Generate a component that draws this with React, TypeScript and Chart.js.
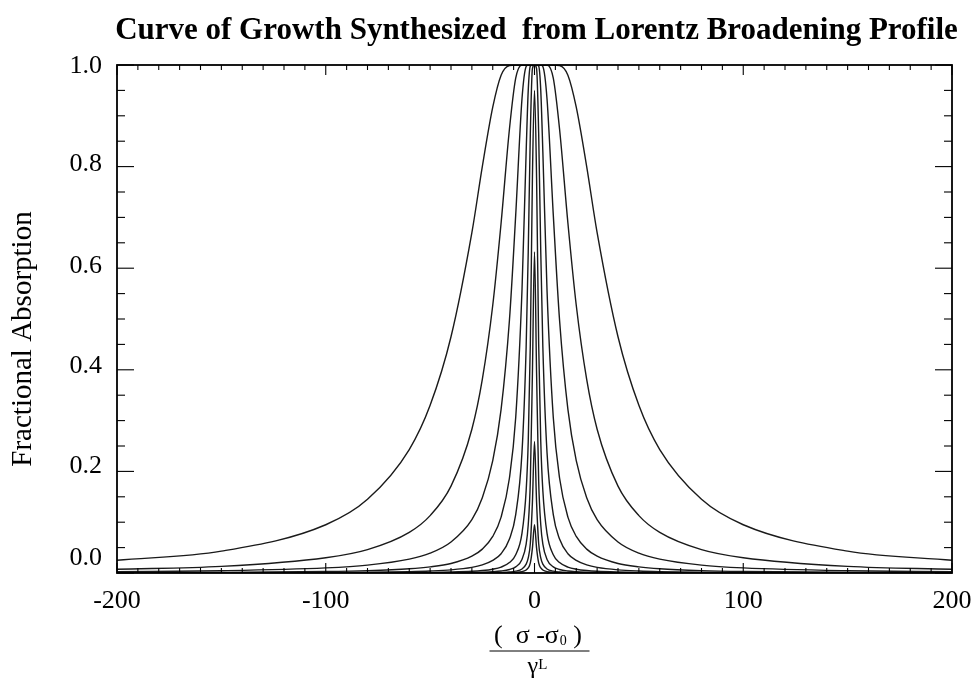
import React, { useEffect, useRef } from 'react';
import { Chart, registerables } from 'chart.js';

Chart.register(...registerables);

const TITLE = 'Curve of Growth Synthesized  from Lorentz Broadening Profile';
const Y_TITLE = 'Fractional Absorption';
const X_TICK_LABELS = ['-200', '-100', '0', '100', '200'];
const X_TICK_VALUES = [-200, -100, 0, 100, 200];
const Y_TICK_LABELS = ['0.0', '0.2', '0.4', '0.6', '0.8', '1.0'];
const Y_TICK_VALUES = [0, 0.2, 0.4, 0.6, 0.8, 1.0];

// offset from line centre, (sigma - sigma0)/gammaL
const xValues = [-200, -150, -100, -80, -60, -50, -40, -30, -25, -20, -16, -12, -9, -6, -4, -3, -2, -1, 0, 1, 2, 3, 4, 6, 9, 12, 16, 20, 25, 30, 40, 50, 60, 80, 100, 150, 200];

// fractional absorption of each profile, widest first
const curveA = [0.025, 0.043, 0.095, 0.145, 0.243, 0.33, 0.465, 0.67, 0.80, 0.917, 0.98, 0.999, 1, 1, 1, 1, 1, 1, 1, 1, 1, 1, 1, 1, 1, 0.999, 0.98, 0.917, 0.80, 0.67, 0.465, 0.33, 0.243, 0.145, 0.095, 0.043, 0.025];
const curveB = [0.0075, 0.013, 0.030, 0.046, 0.080, 0.113, 0.171, 0.283, 0.381, 0.527, 0.689, 0.874, 0.974, 1, 1, 1, 1, 1, 1, 1, 1, 1, 1, 1, 0.974, 0.874, 0.689, 0.527, 0.381, 0.283, 0.171, 0.113, 0.080, 0.046, 0.030, 0.013, 0.0075];
const curveC = [0.0025, 0.0044, 0.010, 0.0155, 0.0274, 0.039, 0.061, 0.105, 0.148, 0.221, 0.322, 0.498, 0.705, 0.933, 0.997, 1, 1, 1, 1, 1, 1, 1, 0.997, 0.933, 0.705, 0.498, 0.322, 0.221, 0.148, 0.105, 0.061, 0.039, 0.0274, 0.0155, 0.010, 0.0044, 0.0025];
const curveD = [0.0008, 0.0013, 0.003, 0.0047, 0.0083, 0.012, 0.0186, 0.033, 0.047, 0.072, 0.110, 0.187, 0.306, 0.556, 0.829, 0.950, 0.998, 1, 1, 1, 0.998, 0.950, 0.829, 0.556, 0.306, 0.187, 0.110, 0.072, 0.047, 0.033, 0.0186, 0.012, 0.0083, 0.0047, 0.003, 0.0013, 0.0008];
const curveE = [0.0003, 0.0004, 0.001, 0.0016, 0.0028, 0.004, 0.0062, 0.011, 0.016, 0.025, 0.038, 0.067, 0.115, 0.237, 0.445, 0.632, 0.865, 0.993, 1, 0.993, 0.865, 0.632, 0.445, 0.237, 0.115, 0.067, 0.038, 0.025, 0.016, 0.011, 0.0062, 0.004, 0.0028, 0.0016, 0.001, 0.0004, 0.0003];
const curveF = [0, 0.0001, 0.0003, 0.0005, 0.0008, 0.0012, 0.0019, 0.0033, 0.0048, 0.0075, 0.0116, 0.0205, 0.036, 0.078, 0.162, 0.259, 0.451, 0.777, 0.950, 0.777, 0.451, 0.259, 0.162, 0.078, 0.036, 0.0205, 0.0116, 0.0075, 0.0048, 0.0033, 0.0019, 0.0012, 0.0008, 0.0005, 0.0003, 0.0001, 0];
const curveG = [0, 0, 0.0001, 0.0002, 0.0003, 0.0004, 0.0006, 0.0011, 0.0016, 0.0025, 0.0039, 0.0069, 0.0121, 0.0267, 0.057, 0.095, 0.181, 0.393, 0.632, 0.393, 0.181, 0.095, 0.057, 0.0267, 0.0121, 0.0069, 0.0039, 0.0025, 0.0016, 0.0011, 0.0006, 0.0004, 0.0003, 0.0002, 0.0001, 0, 0];
const curveH = [0, 0, 0, 0, 0.0001, 0.0001, 0.0002, 0.0003, 0.0005, 0.0007, 0.0012, 0.0021, 0.0037, 0.008, 0.0175, 0.0296, 0.058, 0.139, 0.259, 0.139, 0.058, 0.0296, 0.0175, 0.008, 0.0037, 0.0021, 0.0012, 0.0007, 0.0005, 0.0003, 0.0002, 0.0001, 0.0001, 0, 0, 0, 0];
const curveI = [0, 0, 0, 0, 0, 0, 0, 0.0001, 0.0002, 0.0002, 0.0004, 0.0007, 0.0012, 0.0027, 0.006, 0.010, 0.0198, 0.049, 0.095, 0.049, 0.0198, 0.010, 0.006, 0.0027, 0.0012, 0.0007, 0.0004, 0.0002, 0.0002, 0.0001, 0, 0, 0, 0, 0, 0, 0];

const curves = [curveA, curveB, curveC, curveD, curveE, curveF, curveG, curveH, curveI];

const X_MIN = -200, X_MAX = 200, X_MINOR = 10, X_MAJOR = 100;
const Y_MIN = 0, Y_MAX = 1;

const SERIF = '"Liberation Serif", "DejaVu Serif", serif';
// vertical nudges of the y tick labels (IDL style placement)
const Y_LABEL_NUDGE = [15, 5, 4, 2, 2, -1];

const idlPlugin = {
  id: 'idlAxes',
  afterDatasetsDraw(chart: any) {
    const { ctx, chartArea: a, scales } = chart;
    const xs = scales.x, ys = scales.y;
    ctx.save();
    ctx.strokeStyle = '#000';
    ctx.fillStyle = '#000';
    ctx.lineWidth = 1.8;
    ctx.strokeRect(a.left, a.top, a.right - a.left, a.bottom - a.top);
    ctx.lineWidth = 1.1;
    const seg = (x1: number, y1: number, x2: number, y2: number) => {
      ctx.beginPath(); ctx.moveTo(x1, y1); ctx.lineTo(x2, y2); ctx.stroke();
    };
    const nx = Math.round((X_MAX - X_MIN) / X_MINOR);
    for (let i = 0; i <= nx; i++) {
      const v = X_MIN + i * X_MINOR;
      const major = i % (X_MAJOR / X_MINOR) === 0;
      const len = major ? 10 : 5;
      const px = xs.getPixelForValue(v);
      seg(px, a.bottom, px, a.bottom - len);
      seg(px, a.top, px, a.top + len);
    }
    for (let i = 0; i <= 20; i++) {
      const v = Y_MIN + i * 0.05;
      const len = i % 4 === 0 ? 17 : 8;
      const py = ys.getPixelForValue(v);
      seg(a.left, py, a.left + len, py);
      seg(a.right, py, a.right - len, py);
    }
    // tick labels
    ctx.font = `26px ${SERIF}`;
    ctx.textAlign = 'center';
    ctx.textBaseline = 'middle';
    X_TICK_VALUES.forEach((v, i) => {
      ctx.fillText(X_TICK_LABELS[i], xs.getPixelForValue(v), a.bottom + 28);
    });
    ctx.textAlign = 'right';
    Y_TICK_VALUES.forEach((v, i) => {
      ctx.fillText(Y_TICK_LABELS[i], a.left - 15, ys.getPixelForValue(v) - Y_LABEL_NUDGE[i]);
    });
    // title
    ctx.font = `bold 31px ${SERIF}`;
    ctx.textAlign = 'center';
    ctx.fillText(TITLE, (a.left + a.right) / 2 + 2, 31);
    // y title
    ctx.save();
    ctx.font = `29px ${SERIF}`;
    ctx.translate(23, (a.top + a.bottom) / 2 + 20);
    ctx.rotate(-Math.PI / 2);
    ctx.textAlign = 'center';
    ctx.fillText(Y_TITLE, 0, 0);
    ctx.restore();
    // x title as fraction
    const cx = xs.getPixelForValue(0) + 3;
    ctx.textAlign = 'left';
    const p1 = '(  σ -σ';
    const p2 = '0';
    const p3 = ' )';
    ctx.font = `26px ${SERIF}`;
    const w1 = ctx.measureText(p1).width;
    const w3 = ctx.measureText(p3).width;
    ctx.font = `14px ${SERIF}`;
    const w2 = ctx.measureText(p2).width;
    const total = w1 + w2 + w3;
    const x0 = cx - total / 2;
    const ny = a.bottom + 63;
    ctx.font = `26px ${SERIF}`;
    ctx.fillText(p1, x0, ny);
    ctx.font = `14px ${SERIF}`;
    ctx.fillText(p2, x0 + w1 + 1, ny + 5);
    ctx.font = `26px ${SERIF}`;
    ctx.fillText(p3, x0 + w1 + w2 + 1, ny);
    ctx.lineWidth = 1;
    seg(cx - 48, a.bottom + 78, cx + 52, a.bottom + 78);
    ctx.font = `24px ${SERIF}`;
    const g = 'γ';
    const wg = ctx.measureText(g).width;
    ctx.font = `15px ${SERIF}`;
    const wl = ctx.measureText('L').width;
    const gx = cx - (wg + wl) / 2;
    ctx.font = `24px ${SERIF}`;
    ctx.fillText(g, gx, a.bottom + 94);
    ctx.font = `15px ${SERIF}`;
    ctx.fillText('L', gx + wg, a.bottom + 92);
    ctx.restore();
  },
};

export default function App() {
  const ref = useRef<HTMLCanvasElement | null>(null);
  useEffect(() => {
    if (!ref.current) return;
    const chart = new Chart(ref.current, {
      type: 'line',
      data: {
        datasets: curves.map((c, k) => ({
          label: 'profile ' + (k + 1),
          data: xValues.map((x, i) => ({ x, y: c[i] })),
          borderColor: '#1a1a1a',
          borderWidth: 1.4,
          pointRadius: 0,
          fill: false,
          cubicInterpolationMode: 'monotone' as const,
        })),
      },
      options: {
        animation: false,
        responsive: true,
        maintainAspectRatio: false,
        layout: { padding: { left: 117, right: 24, top: 65, bottom: 109 } },
        plugins: { legend: { display: false }, tooltip: { enabled: false }, title: { display: false } },
        scales: {
          x: { type: 'linear', min: X_MIN, max: X_MAX, display: false },
          y: { type: 'linear', min: Y_MIN, max: Y_MAX, display: false },
        },
      },
      plugins: [idlPlugin],
    });
    return () => chart.destroy();
  }, []);
  return (
    <div style={{ position: 'fixed', left: 0, top: 0, width: 976, height: 682, background: '#fff' }}>
      <canvas ref={ref} />
    </div>
  );
}
